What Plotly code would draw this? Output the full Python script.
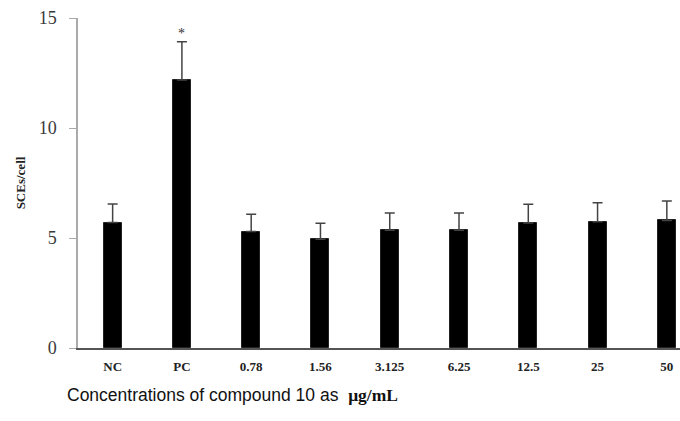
import plotly.graph_objects as go

categories = ["NC", "PC", "0.78", "1.56", "3.125", "6.25", "12.5", "25", "50"]
means = [5.7, 12.18, 5.29, 4.94, 5.35, 5.35, 5.68, 5.74, 5.8]
errors = [0.85, 1.74, 0.79, 0.73, 0.79, 0.79, 0.85, 0.86, 0.88]
y_ticks = [0, 5, 10, 15]
sig_category = "PC"
sig_label = "*"

fig = go.Figure()
fig.add_trace(go.Bar(
    x=list(range(len(categories))),
    y=means,
    width=0.26,
    marker=dict(color="black", line=dict(color="#222", width=1)),
    error_y=dict(type="data", symmetric=False, array=errors,
                 arrayminus=[0] * len(errors), color="#444",
                 thickness=1.5, width=5),
    showlegend=False,
    cliponaxis=False,
))

sig_idx = categories.index(sig_category)
fig.add_annotation(x=sig_idx, y=14.3, text=sig_label, showarrow=False,
                   font=dict(family="Liberation Serif", size=14, color="#333"),
                   yanchor="middle")

fig.add_annotation(
    xref="paper", yref="paper", x=-0.022, y=-0.143, xanchor="left", yanchor="middle",
    text='Concentrations of compound 10 as  <span style="font-family:Liberation Serif;font-weight:bold">μg/mL</span>',
    showarrow=False,
    font=dict(family="Liberation Sans", size=17.5, color="#111"),
)

fig.update_layout(
    width=680, height=421,
    margin=dict(l=78, r=0, t=18, b=73, autoexpand=False),
    plot_bgcolor="white", paper_bgcolor="white",
    bargap=0,
    xaxis=dict(
        range=[-0.5, 8.19], automargin=False,
        tickmode="array", tickvals=list(range(len(categories))),
        ticktext=["<b>%s</b>" % c for c in categories],
        showline=True, linecolor="#555", linewidth=1.5, ticks="",
        showgrid=False, zeroline=False,
        tickfont=dict(family="Liberation Serif", size=13, color="#222"),
        ticklabelstandoff=6,
    ),
    yaxis=dict(
        range=[0, 15], tickvals=y_ticks, automargin=False,
        showline=True, linecolor="#aaa", linewidth=1.5,
        ticks="outside", ticklen=7, tickcolor="#aaa",
        showgrid=False, zeroline=False,
        tickfont=dict(family="Liberation Serif", size=18, color="#3a3a3a"),
        ticklabelstandoff=9,
        title=dict(text="<b>SCEs/cell</b>", standoff=10,
                   font=dict(family="Liberation Serif", size=13, color="#222")),
    ),
)

fig.write_html("out.html", config={"displayModeBar": False},
               post_script="document.body.style.margin='0';")
